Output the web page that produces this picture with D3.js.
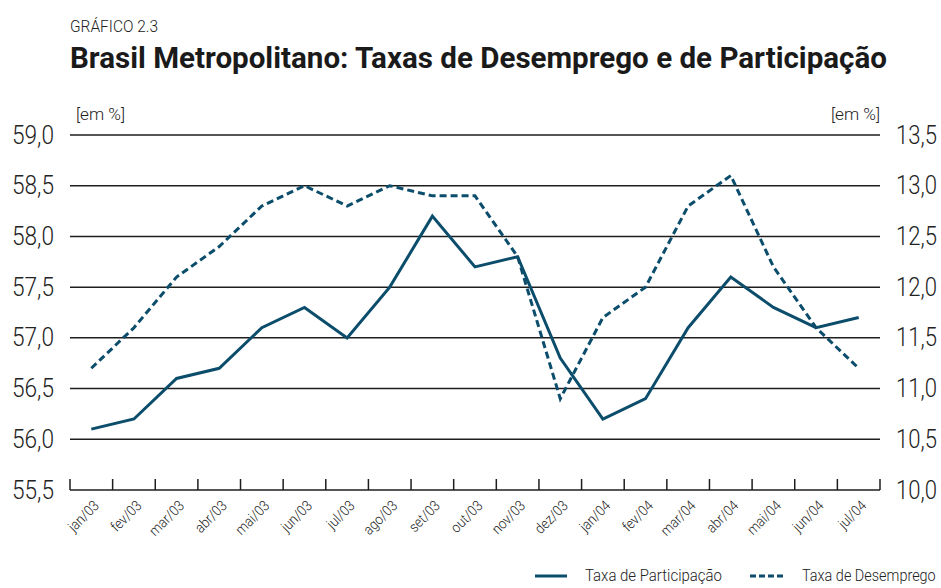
<!DOCTYPE html>
<html>
<head>
<meta charset="utf-8">
<script src="https://cdn.jsdelivr.net/npm/d3@7"></script>
<style>
  body { margin: 0; background: #fff; }
  svg { display: block; }
  text { font-family: Roboto, "Noto Sans", sans-serif; fill: #222; }
</style>
</head>
<body>
<div id="chart"></div>
<script>
// months on the x axis
const months = ["jan/03","fev/03","mar/03","abr/03","mai/03","jun/03","jul/03","ago/03","set/03","out/03",
                "nov/03","dez/03","jan/04","fev/04","mar/04","abr/04","mai/04","jun/04","jul/04"];
// Taxa de Participação (left axis)
const participacao = [56.1,56.2,56.6,56.7,57.1,57.3,57.0,57.5,58.2,57.7,57.8,56.8,56.2,56.4,57.1,57.6,57.3,57.1,57.2];
// Taxa de Desemprego (right axis)
const desemprego = [11.2,11.6,12.1,12.4,12.8,13.0,12.8,13.0,12.9,12.9,12.3,10.9,11.7,12.0,12.8,13.1,12.2,11.6,11.2];
const leftTicks = [55.5,56.0,56.5,57.0,57.5,58.0,58.5,59.0];
const rightTicks = [10.0,10.5,11.0,11.5,12.0,12.5,13.0,13.5];

const W = 941, H = 588;
const mLeft = 70, mRight = 880, mTop = 135, mBottom = 490;
const color = "#0b4d6b";
const fmt = d => d.toFixed(1).replace(".", ",");

const svg = d3.select("#chart").append("svg")
  .attr("width", W).attr("height", H);

const x = d3.scaleBand().domain(months).range([mLeft, mRight]);
const yL = d3.scaleLinear().domain([55.5, 59]).range([mBottom, mTop]);
const yR = d3.scaleLinear().domain([10, 13.5]).range([mBottom, mTop]);

// titles
svg.append("text").attr("x", 70).attr("y", 32)
  .style("font-size", "16px").style("font-weight", 300)
  .attr("textLength", 88).attr("lengthAdjust", "spacingAndGlyphs")
  .text("GRÁFICO 2.3");
svg.append("text").attr("x", 70).attr("y", 68)
  .style("font-size", "30px").style("font-weight", "bold").style("fill", "#1a1a1a")
  .attr("textLength", 817).attr("lengthAdjust", "spacingAndGlyphs")
  .text("Brasil Metropolitano: Taxas de Desemprego e de Participação");
svg.append("text").attr("x", 76).attr("y", 120).style("font-size", "16px").style("font-weight", 300)
  .attr("textLength", 49).attr("lengthAdjust", "spacingAndGlyphs").text("[em %]");
svg.append("text").attr("x", 831).attr("y", 120).style("font-size", "16px").style("font-weight", 300)
  .attr("textLength", 49).attr("lengthAdjust", "spacingAndGlyphs").text("[em %]");

// gridlines
svg.append("g").selectAll("line")
  .data(leftTicks.filter(d => d > 55.5))
  .join("line")
  .attr("x1", mLeft).attr("x2", mRight)
  .attr("y1", d => yL(d)).attr("y2", d => yL(d))
  .attr("stroke", "#1e1e1e").attr("stroke-width", 1.5);

// left axis labels
const gL = svg.append("g").attr("transform", `translate(${mLeft - 13},0)`)
  .call(d3.axisLeft(yL).tickValues(leftTicks).tickFormat(fmt).tickSize(0));
gL.select(".domain").remove();
gL.selectAll("text").style("font-size", "25px").style("font-family", "Roboto, sans-serif").style("font-weight", 300)
  .attr("fill", "#222").attr("textLength", 42).attr("lengthAdjust", "spacingAndGlyphs");

// right axis labels
const gR = svg.append("g").attr("transform", `translate(${mRight + 13},0)`)
  .call(d3.axisRight(yR).tickValues(rightTicks).tickFormat(fmt).tickSize(0));
gR.select(".domain").remove();
gR.selectAll("text").style("font-size", "25px").style("font-family", "Roboto, sans-serif").style("font-weight", 300)
  .attr("fill", "#222").attr("textLength", 41).attr("lengthAdjust", "spacingAndGlyphs");

// bottom axis with ticks at the band edges
const gx = svg.append("g");
gx.append("line").attr("x1", mLeft).attr("x2", mRight)
  .attr("y1", mBottom).attr("y2", mBottom)
  .attr("stroke", "#1e1e1e").attr("stroke-width", 1.5);
gx.selectAll("line.tick")
  .data(months.map(m => x(m)).concat([mRight]))
  .join("line").attr("class", "tick")
  .attr("x1", d => d).attr("x2", d => d)
  .attr("y1", mBottom).attr("y2", mBottom - 11)
  .attr("stroke", "#1e1e1e").attr("stroke-width", 1.5);
gx.selectAll("text")
  .data(months)
  .join("text")
  .attr("transform", d => `translate(${x(d) + x.bandwidth() / 2 + 5},${mBottom + 13}) rotate(-45) scale(0.9,1)`)
  .attr("text-anchor", "end")
  .attr("dy", "0.35em")
  .style("font-size", "14.5px").style("font-weight", 300)
  .text(d => d);

// lines
const lineL = d3.line().x((d, i) => x(months[i]) + x.bandwidth() / 2).y(d => yL(d));
const lineR = d3.line().x((d, i) => x(months[i]) + x.bandwidth() / 2).y(d => yR(d));

svg.append("path").datum(desemprego)
  .attr("d", lineR).attr("fill", "none")
  .attr("stroke", color).attr("stroke-width", 3)
  .attr("stroke-dasharray", "7,4");

svg.append("path").datum(participacao)
  .attr("d", lineL).attr("fill", "none")
  .attr("stroke", color).attr("stroke-width", 3)
  .attr("stroke-linejoin", "miter");

// legend
const lg = svg.append("g");
lg.append("line").attr("x1", 535).attr("x2", 567).attr("y1", 576).attr("y2", 576)
  .attr("stroke", color).attr("stroke-width", 3);
lg.append("text").attr("transform", "translate(585,575) scale(0.88,1)").attr("dy", "0.35em")
  .style("font-size", "17px").style("font-weight", 300)
  .text("Taxa de Participação");
lg.append("line").attr("x1", 750).attr("x2", 783).attr("y1", 576).attr("y2", 576)
  .attr("stroke", color).attr("stroke-width", 3).attr("stroke-dasharray", "6,3");
lg.append("text").attr("transform", "translate(802,575) scale(0.85,1)").attr("dy", "0.35em")
  .style("font-size", "17px").style("font-weight", 300)
  .text("Taxa de Desemprego");
</script>
</body>
</html>
